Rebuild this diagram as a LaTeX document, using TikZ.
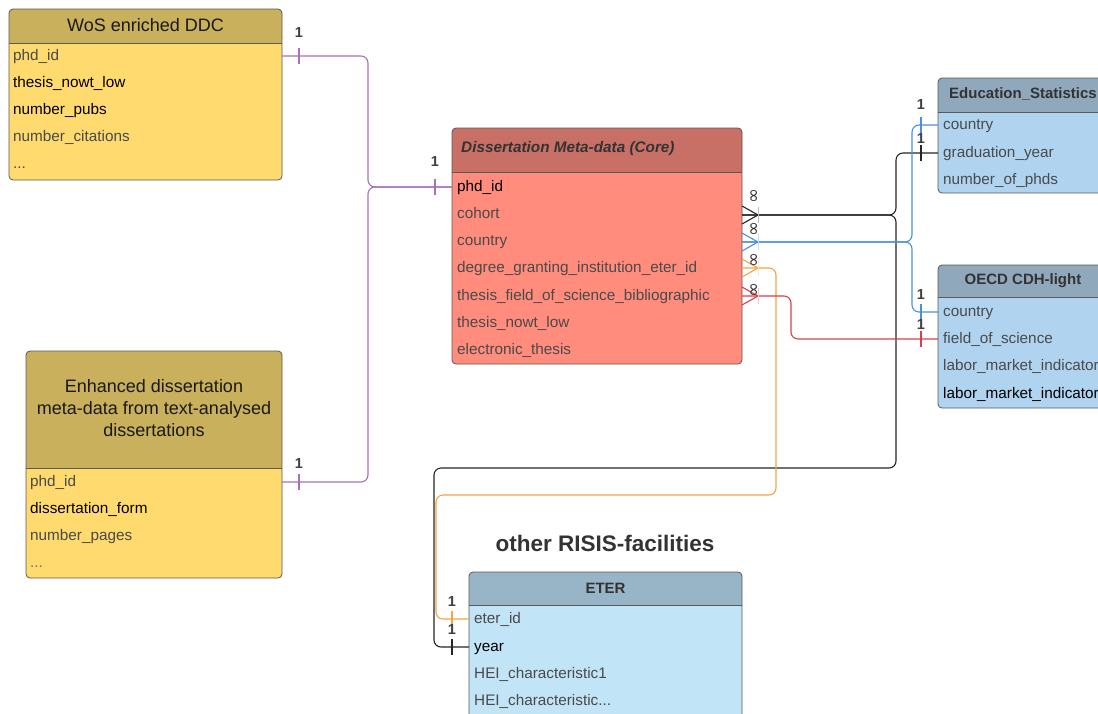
\documentclass[tikz,border=0pt]{standalone}
\usepackage{fontspec}
\setmainfont{Liberation Sans}
\newfontfamily\djvfont{DejaVu Sans}
\usetikzlibrary{calc}
\definecolor{wosh}{HTML}{C9B05C}
\definecolor{wosb}{HTML}{FFDA6E}
\definecolor{coreh}{HTML}{C87066}
\definecolor{coreb}{HTML}{FF8C7C}
\definecolor{eduh}{HTML}{8FA8BC}
\definecolor{edub}{HTML}{B0D4F0}
\definecolor{eterh}{HTML}{98B5C7}
\definecolor{eterb}{HTML}{C1E4F7}
\definecolor{tbl}{HTML}{5A5A5A}
\definecolor{txtg}{HTML}{4A4A4A}
\definecolor{cpurple}{HTML}{A772B3}
\definecolor{cblack}{HTML}{262626}
\definecolor{cblue}{HTML}{4A90E2}
\definecolor{corange}{HTML}{F4A444}
\definecolor{cred}{HTML}{D9404F}
\newcommand\ertable[8]{%
  \fill[#8, rounded corners=4] (#2,#3) rectangle (#4,#5);
  \fill[#7, rounded corners=4] (#2,#3) rectangle (#4,#6);
  \fill[#7] (#2,{#6-6}) rectangle (#4,#6);
  \draw[tbl, line width=.8] (#2,#6) -- (#4,#6);
  \node[draw=tbl, line width=.8, rounded corners=4, inner sep=0, outer sep=0,
        minimum width={(#4-#2)*1pt}, minimum height={(#5-#3)*1pt},
        anchor=north west] (#1) at (#2,#3) {};
}
\newcommand\onetick[3]{%
  \draw[#1, line width=1.1] ($(#2)+(0,-8)$) -- ($(#2)+(0,8)$);
  \node[onelab] at ($(#2)+(0,-#3)$) {1};
}
\newcommand\crowfoot[3]{%
  \draw[#1, line width=1.1] ($(#2)+(0,-9)$) -- ($(#2)+(16,0)$) -- ($(#2)+(0,9)$);
  \draw[#1!30, line width=1] ($(#2)+(16,-8)$) -- ($(#2)+(16,8)$);
  \node[inflab] at ($(#2)+(13,#3)$) {∞};
}
\tikzset{
  row/.style={anchor=base west, inner sep=0, font=\fontsize{15.3}{17}\selectfont,
              text height=11pt, text depth=3pt, text=txtg},
  rowk/.style={row, text=black},
  htitle/.style={font=\bfseries\fontsize{15}{18}\selectfont, text=black!80, inner sep=0},
  ntitle/.style={font=\fontsize{18}{22}\selectfont, text=black!90, inner sep=0, align=center},
  conn/.style={line width=1.1, rounded corners=7},
  onelab/.style={font=\bfseries\fontsize{14.5}{16}\selectfont, text=black!75, inner sep=0},
  inflab/.style={font=\djvfont\fontsize{18}{20}\selectfont, text=black!80, rotate=90, inner sep=0},
}
\begin{document}
\begin{tikzpicture}[x=1pt,y=-1pt]
\useasboundingbox (0,0) rectangle (1098,713);
\clip (0,0) rectangle (1098,713);
\fill[white] (0,0) rectangle (1098,713);

% ---------- tables ----------
\ertable{wos}{9}{9}{282}{180}{43}{wosh}{wosb}
\node[ntitle] at (145.5,25) {WoS enriched DDC};
\node[row]  (wos-phd) at (13,60)  {phd\_id};
\node[rowk] (wos-now) at (13,87)  {thesis\_nowt\_low};
\node[rowk] (wos-pub) at (13,114) {number\_pubs};
\node[row]  (wos-cit) at (13,141) {number\_citations};
\node[row]  (wos-dot) at (13,168) {...};

\ertable{enh}{26}{351}{282}{578}{468}{wosh}{wosb}
\node[ntitle] at (154,408) {Enhanced dissertation\\meta-data from text-analysed\\dissertations};
\node[row]  (enh-phd) at (30,486) {phd\_id};
\node[rowk] (enh-frm) at (30,513) {dissertation\_form};
\node[row]  (enh-pag) at (30,540) {number\_pages};
\node[row, text=black!55] (enh-dot) at (30,567) {...};

\ertable{core}{452}{128}{742}{364}{172}{coreh}{coreb}
\node[htitle, font=\bfseries\itshape\fontsize{15.3}{18}\selectfont, anchor=west] at (461,149) {Dissertation Meta-data (Core)};
\node[rowk] (core-phd) at (457,191) {phd\_id};
\node[row]  (core-coh) at (457,218) {cohort};
\node[row]  (core-cty) at (457,245) {country};
\node[row]  (core-deg) at (457,272) {degree\_granting\_institution\_eter\_id};
\node[row]  (core-fos) at (457,300) {thesis\_field\_of\_science\_bibliographic};
\node[row]  (core-now) at (457,327) {thesis\_nowt\_low};
\node[row]  (core-ele) at (457,354) {electronic\_thesis};

\ertable{edu}{938}{78}{1108}{193}{112}{eduh}{edub}
\node[htitle] at (1023,94) {Education\_Statistics};
\node[row] (edu-cty) at (943,129) {country};
\node[row] (edu-grd) at (943,157) {graduation\_year};
\node[row] (edu-num) at (943,184) {number\_of\_phds};

\ertable{oecd}{938}{265}{1108}{408}{297}{eduh}{edub}
\node[htitle] at (1023,281) {OECD CDH-light};
\node[row]  (oecd-cty) at (943,316) {country};
\node[row]  (oecd-fos) at (943,343) {field\_of\_science};
\node[row]  (oecd-lm1) at (943,370) {labor\_market\_indicator};
\node[rowk] (oecd-lm2) at (943,398) {labor\_market\_indicator};

\node[font=\bfseries\fontsize{22.5}{26}\selectfont, text=black!80, inner sep=0] (risis) at (605,543) {other RISIS-facilities};

\ertable{eter}{469}{572}{742}{718}{605}{eterh}{eterb}
\node[htitle] at (605.5,588) {ETER};
\node[row]  (eter-id)  at (474,623) {eter\_id};
\node[rowk] (eter-yr)  at (474,651) {year};
\node[row]  (eter-h1)  at (474,678) {HEI\_characteristic1};
\node[row]  (eter-h2)  at (474,705) {HEI\_characteristic...};

% ---------- waypoints ----------
\coordinate (pj) at (368,187);
\coordinate (bj) at (896,215);
\coordinate (bb) at (896,468);
\coordinate (bl) at (434,468);
\coordinate (uj) at (912,242);
\coordinate (o1) at (776,495);
\coordinate (o2) at (436,495);
\coordinate (r1) at (791,320);

% ---------- connectors ----------
\draw[conn, cpurple] (wos.east |- wos-phd) -| (pj) -- (core.west |- pj);
\draw[conn, cpurple] (enh.east |- enh-phd) -| (pj) -- (core.west |- pj);

\draw[conn, cblack] (core.east |- bj) -- (bj) |- (edu.west |- edu-grd);
\draw[conn, cblack] (core.east |- bj) -- (bj) -- (bb) -- (bl) |- (eter.west |- eter-yr);

\draw[conn, cblue] (core.east |- uj) -- (uj) |- (edu.west |- edu-cty);
\draw[conn, cblue] (core.east |- uj) -- (uj) |- (oecd.west |- oecd-cty);

\draw[conn, corange] (core.east |- core-deg) -| (o1) -- (o2) |- (eter.west |- eter-id);

\draw[conn, cred] (core.east |- core-fos) -| (r1) |- (oecd.west |- oecd-fos);

% ---------- cardinality marks ----------
\onetick{cpurple}{$(wos.east |- wos-phd)+(17,0)$}{23}
\onetick{cpurple}{$(enh.east |- enh-phd)+(17,0)$}{18}
\onetick{cpurple}{$(core.west |- pj)+(-17,0)$}{25}

\onetick{cblue}{$(edu.west |- edu-cty)+(-17,0)$}{20}
\onetick{cblack}{$(edu.west |- edu-grd)+(-17,0)$}{14}
\onetick{cblue}{$(oecd.west |- oecd-cty)+(-17,0)$}{17}
\onetick{cred}{$(oecd.west |- oecd-fos)+(-17,0)$}{14}
\onetick{corange}{$(eter.west |- eter-id)+(-17,0)$}{17}
\onetick{cblack}{$(eter.west |- eter-yr)+(-17,0)$}{17}

\crowfoot{cblack}{core.east |- bj}{-19}
\crowfoot{cblue}{core.east |- uj}{-13}
\crowfoot{corange}{core.east |- core-deg}{-8}
\crowfoot{cred}{core.east |- core-fos}{-6}
\end{tikzpicture}
\end{document}
